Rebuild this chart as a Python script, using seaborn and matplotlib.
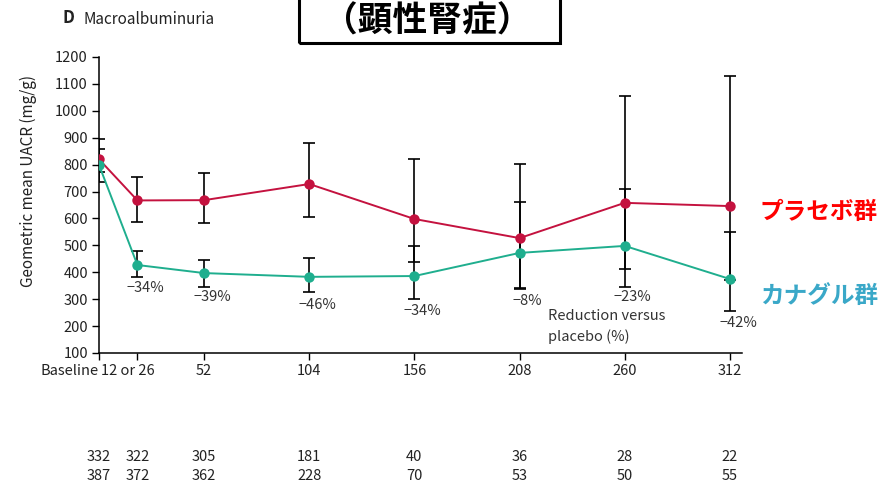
import matplotlib
matplotlib.use("Agg")
import matplotlib.pyplot as plt
import matplotlib.transforms as mtransforms
from matplotlib.patches import Rectangle
import numpy as np
import pandas as pd
import seaborn as sns

# ---- data -------------------------------------------------------------
week_pos = [0, 19, 52, 104, 156, 208, 260, 312]
week_labels = ["Baseline", "12 or 26", "52", "104", "156", "208", "260", "312"]

placebo_mean = [820, 667, 668, 728, 598, 527, 658, 646]
placebo_lo = [773, 587, 583, 605, 438, 342, 412, 370]
placebo_hi = [858, 754, 769, 881, 821, 803, 1055, 1130]

cana_mean = [799, 427, 397, 383, 386, 472, 498, 375]
cana_lo = [736, 383, 345, 327, 301, 337, 345, 256]
cana_hi = [895, 479, 446, 453, 498, 661, 710, 550]

reduction_pct = [None, "\u221234%", "\u221239%", "\u221246%", "\u221234%", "\u22128%", "\u221223%", "\u221242%"]

n_placebo = [332, 322, 305, 181, 40, 36, 28, 22]
n_cana = [387, 372, 362, 228, 70, 53, 50, 55]

# ---- styling ----------------------------------------------------------
sns.set_theme(style="ticks")
plt.rcParams["font.family"] = ["Liberation Sans Narrow", "Noto Sans CJK JP", "DejaVu Sans"]

red = "#c4123f"
teal = "#1fae8e"
ink = "#222222"
cjk = ["Noto Sans CJK JP", "DejaVu Sans"]

fig = plt.figure(figsize=(8.87, 4.88), dpi=100)
ax = fig.add_axes([99 / 887, 1 - 353 / 488, (742 - 99) / 887, (353 - 57) / 488])

df = pd.DataFrame({
    "week": week_pos * 2,
    "uacr": placebo_mean + cana_mean,
    "group": ["placebo"] * len(week_pos) + ["cana"] * len(week_pos),
})

# confidence intervals
for mean, lo, hi in [(placebo_mean, placebo_lo, placebo_hi), (cana_mean, cana_lo, cana_hi)]:
    m = np.array(mean)
    ax.errorbar(week_pos, m, yerr=[m - np.array(lo), np.array(hi) - m],
                fmt="none", ecolor="black", elinewidth=1.2, capsize=4,
                capthick=1.2, zorder=2)

sns.lineplot(data=df, x="week", y="uacr", hue="group",
             palette={"placebo": red, "cana": teal}, marker="o",
             markersize=7.5, markeredgewidth=0, linewidth=1.4,
             legend=False, ax=ax, zorder=3)

ax.set_xlim(0, 318)
ax.set_ylim(100, 1200)
ax.set_yticks(range(100, 1201, 100))
ax.set_xticks(week_pos)
ax.set_xticklabels(week_labels)
ax.tick_params(axis="both", labelsize=10.5, length=5, width=1, color="black",
               labelcolor=ink, pad=3)
for side in ["top", "right"]:
    ax.spines[side].set_visible(False)
for side in ["left", "bottom"]:
    ax.spines[side].set_linewidth(1.1)
    ax.spines[side].set_color("black")
ax.set_xlabel("")
ax.set_ylabel("Geometric mean UACR (mg/g)", fontsize=11, color=ink)
ax.yaxis.set_label_coords(-0.097, 0.58)

# nudge the first two x tick labels
xl = ax.get_xticklabels()
xl[0].set_transform(xl[0].get_transform() + mtransforms.ScaledTranslation(-0.29, 0, fig.dpi_scale_trans))
xl[1].set_transform(xl[1].get_transform() + mtransforms.ScaledTranslation(-0.10, 0, fig.dpi_scale_trans))

# reduction versus placebo labels
pct_y = [None, 342, 308, 278, 256, 293, 308, 211]
for x, txt, y in zip(week_pos, reduction_pct, pct_y):
    if txt:
        ax.text(x + 4, y, txt, ha="center", va="center", fontsize=10.5, color="#333333")
ax.text(222, 198, "Reduction versus\nplacebo (%)", ha="left", va="center",
        fontsize=10.5, color="#333333", linespacing=1.5)

# numbers at risk
blend = mtransforms.blended_transform_factory(ax.transData, fig.transFigure)
for x, a, b in zip(week_pos, n_placebo, n_cana):
    ax.text(x, 1 - 457 / 488, str(a), transform=blend, ha="center", va="center",
            fontsize=10.5, color=ink, clip_on=False)
    ax.text(x, 1 - 476 / 488, str(b), transform=blend, ha="center", va="center",
            fontsize=10.5, color=ink, clip_on=False)

# panel title
fig.text(63 / 887, 1 - 18 / 488, "D", fontsize=12, fontweight="bold", color=ink,
         ha="left", va="center")
fig.text(84 / 887, 1 - 19 / 488, "Macroalbuminuria", fontsize=11, color=ink,
         ha="left", va="center")

# boxed heading
fig.patches.append(Rectangle((299 / 887, 1 - 43 / 488), (560 - 299) / 887, 60 / 488,
                             transform=fig.transFigure, fill=False, edgecolor="black",
                             linewidth=2.2, clip_on=False))
fig.text(427 / 887, 1 - 21 / 488, "（顕性腎症）", fontsize=25, fontweight="bold",
         ha="center", va="center", color="black", family=cjk)

# group labels
fig.text(760 / 887, 1 - 212 / 488, "プラセボ群", fontsize=17, fontweight="bold",
         color="#ff0000", ha="left", va="center", family=cjk)
fig.text(760 / 887, 1 - 296 / 488, "カナグル群", fontsize=17, fontweight="bold",
         color="#3aa8c8", ha="left", va="center", family=cjk)

fig.savefig("out.png", dpi=100, facecolor="white")
